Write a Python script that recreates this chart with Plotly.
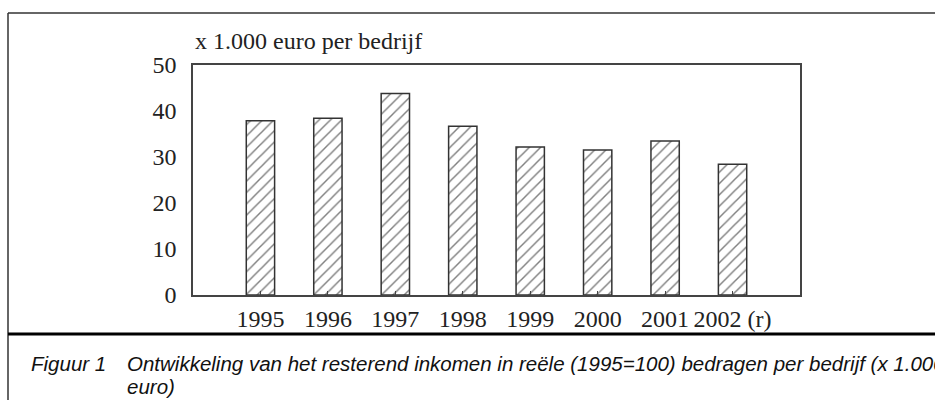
import plotly.graph_objects as go

years = ["1995", "1996", "1997", "1998", "1999", "2000", "2001", "2002 (r)"]
income = [37.9, 38.4, 43.8, 36.7, 32.2, 31.5, 33.5, 28.4]
y_ticks = [0, 10, 20, 30, 40, 50]
y_title = "x 1.000 euro per bedrijf"
caption_label = "Figuur 1"
caption_line1 = "Ontwikkeling van het resterend inkomen in reële (1995=100) bedragen per bedrijf (x 1.000"
caption_line2 = "euro)"

SERIF = "Liberation Serif, Times New Roman, serif"
SANS = "Liberation Sans Narrow, Arial Narrow, Liberation Sans, Arial, sans-serif"

fig = go.Figure(
    go.Bar(
        x=years,
        y=income,
        width=0.42,
        marker=dict(
            color="white",
            line=dict(color="#333333", width=1.5),
            pattern=dict(shape="/", fgcolor="black", bgcolor="white", size=8, solidity=0.18),
        ),
        hoverinfo="x+y",
    )
)

W, H = 935, 400
ML, MR, MT, MB = 193, 135, 65, 105
pw, ph = W - ML - MR, H - MT - MB


def px(xp):
    return (xp - ML) / pw


def py(yp):
    return (H - MB - yp) / ph


fig.update_layout(
    width=W,
    height=H,
    margin=dict(l=ML, r=MR, t=MT, b=MB, pad=0),
    paper_bgcolor="white",
    plot_bgcolor="white",
    showlegend=False,
    font=dict(family=SERIF, size=24, color="#222222"),
    xaxis=dict(
        type="category",
        range=[-1, 8],
        showgrid=False,
        zeroline=False,
        showline=True,
        mirror=True,
        linecolor="#444444",
        linewidth=1.5,
        ticks="inside",
        ticklen=4,
        tickcolor="#444444",
        tickfont=dict(family=SERIF, size=24, color="#222222"),
        ticklabelstandoff=1,
    ),
    yaxis=dict(
        range=[0, 50],
        tickvals=y_ticks,
        showgrid=False,
        zeroline=False,
        showline=True,
        mirror=True,
        linecolor="#444444",
        linewidth=1.5,
        ticks="",
        tickfont=dict(family=SERIF, size=24, color="#222222"),
        ticklabelstandoff=10,
    ),
    shapes=[
        # outer frame: top and left border
        dict(type="line", xref="paper", yref="paper", x0=px(8), x1=px(945), y0=py(13), y1=py(13),
             line=dict(color="#333333", width=1.5)),
        dict(type="line", xref="paper", yref="paper", x0=px(8), x1=px(8), y0=py(13), y1=py(410),
             line=dict(color="#333333", width=1.5)),
        # divider between chart and caption
        dict(type="line", xref="paper", yref="paper", x0=px(8), x1=px(945), y0=py(334), y1=py(334),
             line=dict(color="black", width=3)),
    ],
    annotations=[
        dict(text=y_title, xref="paper", yref="paper", x=0, y=py(41), xanchor="left", yanchor="middle",
             showarrow=False, font=dict(family=SERIF, size=24, color="#222222")),
        dict(text="<i>" + caption_label + "</i>", xref="paper", yref="paper", x=px(29), y=py(363),
             xanchor="left", yanchor="middle", showarrow=False,
             font=dict(family=SANS, size=20.5, color="#111111")),
        dict(text="<i>" + caption_line1 + "</i>", xref="paper", yref="paper",
             x=px(125), y=py(363), xanchor="left", yanchor="middle", align="left", showarrow=False,
             font=dict(family=SANS, size=20.5, color="#111111")),
        dict(text="<i>" + caption_line2 + "</i>", xref="paper", yref="paper",
             x=px(125), y=py(386), xanchor="left", yanchor="middle", align="left", showarrow=False,
             font=dict(family=SANS, size=20.5, color="#111111")),
    ],
)

fig.write_html(
    "out.html",
    config={"displayModeBar": False},
    post_script="document.body.style.margin='0px';document.body.style.overflow='hidden';",
)
